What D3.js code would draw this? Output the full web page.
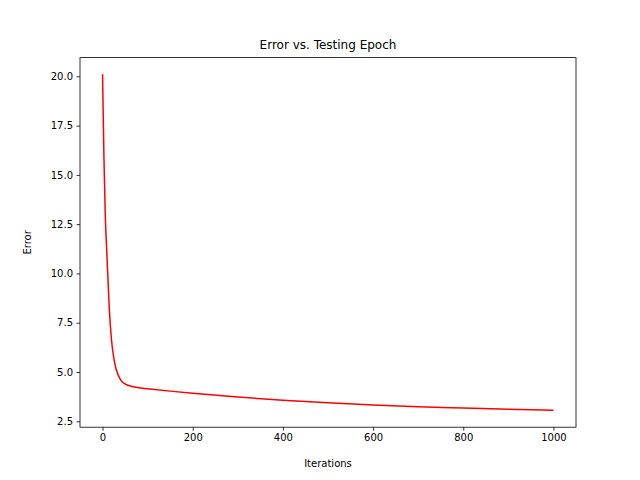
<!DOCTYPE html>
<meta charset="utf-8">
<script src="https://d3js.org/d3.v7.min.js"></script>
<style>body{margin:0;background:#fff}</style>
<div id="chart"></div>
<script>
// values
var iterations = [0, 3, 6, 10, 15, 20, 25, 30, 40, 50, 60, 80, 100, 150, 200, 300, 400, 500, 600, 700, 800, 900, 1000];
var errors = [20.1, 16, 13, 10.8, 8.2, 6.6, 5.7, 5.15, 4.6, 4.4, 4.3, 4.2, 4.15, 4.03, 3.92, 3.73, 3.57, 3.44, 3.33, 3.24, 3.17, 3.11, 3.06];
var xTicks = [0, 200, 400, 600, 800, 1000];
var yTicks = [2.5, 5.0, 7.5, 10.0, 12.5, 15.0, 17.5, 20.0];

var W = 640, H = 480;
var margin = {top: 57.6, right: 64, bottom: 52.8, left: 80};
var width = W - margin.left - margin.right,
    height = H - margin.top - margin.bottom;

var svg = d3.select("#chart").append("svg")
    .attr("width", W).attr("height", H)
    .style("font-family", "DejaVu Sans");
var g = svg.append("g")
    .attr("transform", "translate(" + margin.left + "," + margin.top + ")");

var x = d3.scaleLinear().domain([-50, 1050]).range([0, width]);
var y = d3.scaleLinear().domain([2.2, 20.95]).range([height, 0]);

var data = iterations.map(function(d, i) { return [d, errors[i]]; });
g.append("path")
    .datum(data)
    .attr("fill", "none")
    .attr("stroke", "red")
    .attr("stroke-width", 1.5)
    .attr("d", d3.line()
      .x(function(d) { return x(d[0]); })
      .y(function(d) { return y(d[1]); })
      .curve(d3.curveMonotoneX));

var xa = g.append("g").attr("transform", "translate(0," + height + ")")
    .call(d3.axisBottom(x).tickValues(xTicks).tickSize(3.5).tickPadding(3.5).tickFormat(d3.format("d")));
var ya = g.append("g")
    .call(d3.axisLeft(y).tickValues(yTicks).tickSize(3.5).tickPadding(3.5).tickFormat(d3.format(".1f")));
[xa, ya].forEach(function(a) {
  a.select(".domain").remove();
  a.selectAll("text").style("font-size", "10px").attr("fill", "#000").style("font-family", "DejaVu Sans");
  a.selectAll("line").attr("stroke", "#000").attr("stroke-width", 0.8);
});

g.append("rect").attr("width", width).attr("height", height)
    .attr("fill", "none").attr("stroke", "#000").attr("stroke-width", 0.8);

svg.append("text").attr("x", margin.left + width / 2).attr("y", 49)
    .attr("text-anchor", "middle").style("font-size", "12px").text("Error vs. Testing Epoch");
svg.append("text").attr("x", margin.left + width / 2).attr("y", 467)
    .attr("text-anchor", "middle").style("font-size", "10px").text("Iterations");
svg.append("text").attr("transform", "translate(31," + (margin.top + height / 2) + ") rotate(-90)")
    .attr("text-anchor", "middle").style("font-size", "10px").text("Error");
</script>
